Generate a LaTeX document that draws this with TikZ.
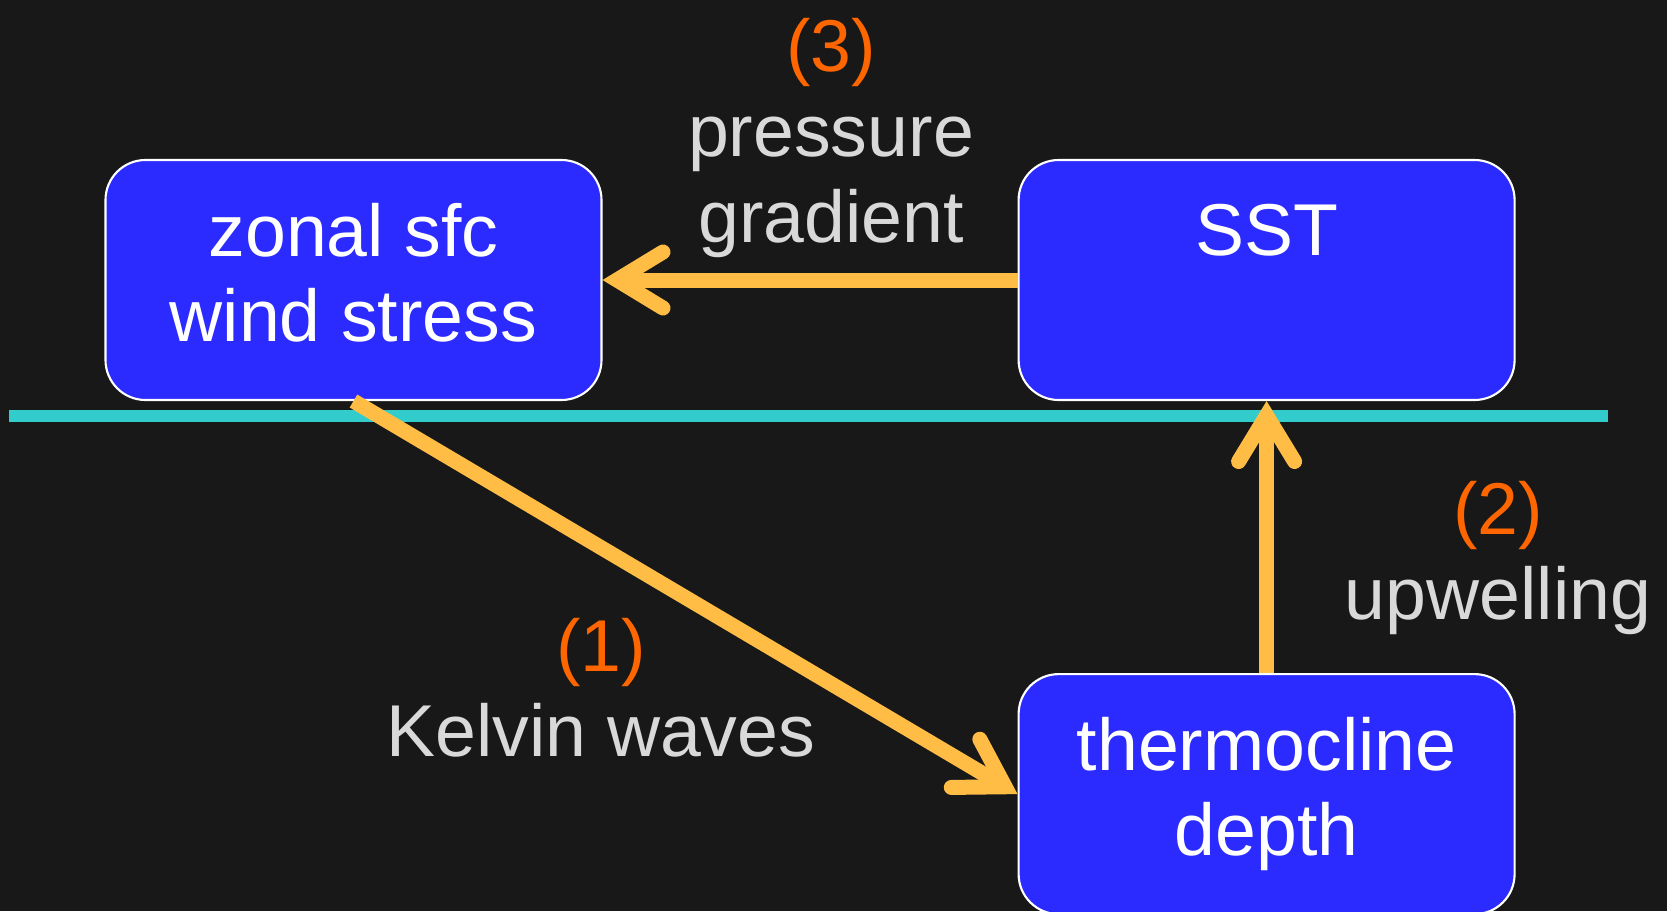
\documentclass[tikz,border=0pt]{standalone}
\usepackage{fontspec}
\setmainfont{Liberation Sans}
\usetikzlibrary{arrows.meta,positioning}

\definecolor{bgdark}{HTML}{181818}
\definecolor{boxblue}{HTML}{2B2BFF}
\definecolor{seacyan}{HTML}{33CCCC}
\definecolor{arrowgold}{HTML}{FFBD45}
\definecolor{numorange}{HTML}{FF6600}
\definecolor{lblgray}{HTML}{D9D9D9}
\newcommand{\bigfont}{\fontsize{20.9pt}{24.2pt}\selectfont}

\begin{document}
\begin{tikzpicture}[
    box/.style={draw=white, line width=0.6pt, fill=boxblue, rounded corners=0.4cm, minimum width=4.96cm, minimum height=2.4cm, align=center, text=white, font=\bigfont, execute at end node={\vphantom{p}}},
    lbl/.style={align=center, text=lblgray, font=\bigfont},
    arrow/.style={-{Straight Barb[length=4.6mm,width=5.6mm,line cap=round]}, line width=0.15cm, arrowgold}
]
    % Background
    \fill[bgdark] (0,0) rectangle (16.67,9.11);
    \useasboundingbox (0,0) rectangle (16.67,9.11);

    % Sea surface
    \draw[seacyan, line width=0.12cm] (0.085,4.95) -- (16.08,4.95);

    % Boxes
    \node[box] (wind) at (3.535,6.31) {zonal sfc\\wind stress};
    \node[box, right=4.15cm of wind] (sst) {SST\\};
    \node[box, below=2.72cm of sst] (thermo) {thermocline\\depth};

    % Arrows
    \draw[arrow] (wind.south) -- (thermo.west);
    \draw[arrow] (thermo.north) -- (sst.south);
    \draw[arrow] (sst.west) -- (wind.east);

    % Labels
    \node[lbl] (gradlbl) at (8.31,7.73) {\textcolor{numorange}{(3)}\\pressure\\gradient};
    \node[lbl] (kelvinlbl) at (6.01,2.23) {\textcolor{numorange}{(1)}\\Kelvin waves};
    \node[lbl] (upwlbl) at (14.98,3.53) {\textcolor{numorange}{(2)}\\upwelling};

\end{tikzpicture}
\end{document}
